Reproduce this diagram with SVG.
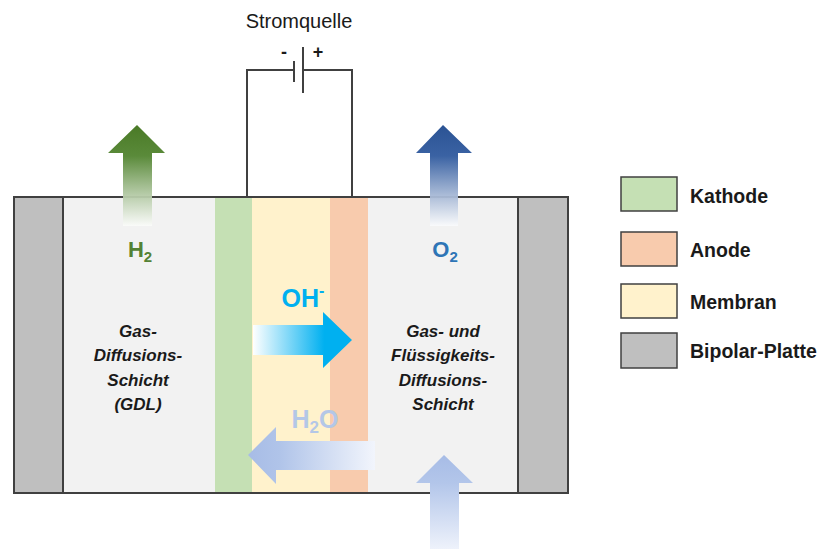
<svg xmlns="http://www.w3.org/2000/svg" width="823" height="549" viewBox="0 0 823 549">
  <style>
    .wire { fill: none; stroke: #404040; stroke-width: 2; }
    .plate { fill: #bfbfbf; stroke: #404040; stroke-width: 2; }
    .cell { fill: #f2f2f2; stroke: #404040; stroke-width: 2; }
    .key { stroke: #404040; stroke-width: 1.5; }
    .lbl { font-family: "Liberation Sans", Arial, sans-serif; font-weight: bold; font-size: 19.5px; fill: #1a1a1a; }
    .layer { font-family: "Liberation Sans", Arial, sans-serif; font-weight: bold; font-style: italic; font-size: 17px; fill: #1a1a1a; text-anchor: middle; }
    .chem { font-family: "Liberation Sans", Arial, sans-serif; font-weight: bold; text-anchor: middle; }
  </style>
  <defs>
    <linearGradient id="gH2" gradientUnits="userSpaceOnUse" x1="0" y1="125" x2="0" y2="228">
      <stop offset="0" stop-color="#4a7a26"/>
      <stop offset="0.3" stop-color="#5a8a3a"/>
      <stop offset="1" stop-color="#ffffff" stop-opacity="0.9"/>
    </linearGradient>
    <linearGradient id="gO2" gradientUnits="userSpaceOnUse" x1="0" y1="125" x2="0" y2="228">
      <stop offset="0" stop-color="#2b5394"/>
      <stop offset="0.3" stop-color="#3a62a3"/>
      <stop offset="1" stop-color="#ffffff" stop-opacity="0.9"/>
    </linearGradient>
    <linearGradient id="gOH" gradientUnits="userSpaceOnUse" x1="253" y1="0" x2="352" y2="0">
      <stop offset="0" stop-color="#ffffff"/>
      <stop offset="0.72" stop-color="#00b0f0"/>
      <stop offset="1" stop-color="#00b0f0"/>
    </linearGradient>
    <linearGradient id="gH2O" gradientUnits="userSpaceOnUse" x1="248" y1="0" x2="375" y2="0">
      <stop offset="0" stop-color="#a7bce6"/>
      <stop offset="0.25" stop-color="#b0c4e9"/>
      <stop offset="1" stop-color="#f2f5fc"/>
    </linearGradient>
    <linearGradient id="gIn" gradientUnits="userSpaceOnUse" x1="0" y1="455" x2="0" y2="549">
      <stop offset="0" stop-color="#a7bce6"/>
      <stop offset="0.3" stop-color="#b3c6ea"/>
      <stop offset="1" stop-color="#eef2fb"/>
    </linearGradient>
  </defs>

  <!-- power source circuit -->
  <g id="power-source">
    <text x="299" y="28" text-anchor="middle" font-family="Liberation Sans, Arial, sans-serif" font-size="20" fill="#1a1a1a">Stromquelle</text>
    <text x="284" y="58" text-anchor="middle" font-family="Liberation Sans, Arial, sans-serif" font-size="18" font-weight="bold" fill="#1a1a1a">-</text>
    <text x="318" y="58" text-anchor="middle" font-family="Liberation Sans, Arial, sans-serif" font-size="18" font-weight="bold" fill="#1a1a1a">+</text>
    <polyline class="wire" points="247,197 247,70 294,70"/>
    <polyline class="wire" points="303,70 352,70 352,197"/>
    <line class="wire" x1="294" y1="61" x2="294" y2="82"/>
    <line class="wire" x1="303" y1="47" x2="303" y2="93"/>
  </g>

  <!-- cell body -->
  <g id="cell">
    <rect class="cell" x="63" y="197" width="455" height="296"/>
    <rect x="215" y="198" width="37" height="294" fill="#c5e0b4"/>
    <rect x="252" y="198" width="78" height="294" fill="#fff2cc"/>
    <rect x="330" y="198" width="38" height="294" fill="#f8cbad"/>
  </g>
  <g id="bipolar-left"><rect class="plate" x="14" y="197" width="49" height="296"/></g>
  <g id="bipolar-right"><rect class="plate" x="518" y="197" width="50" height="296"/></g>

  <!-- layer descriptions -->
  <g id="gdl-text">
    <text class="layer" x="138" y="337">Gas-</text>
    <text class="layer" x="138" y="361">Diffusions-</text>
    <text class="layer" x="138" y="386">Schicht</text>
    <text class="layer" x="138" y="410">(GDL)</text>
  </g>
  <g id="lgdl-text">
    <text class="layer" x="443" y="337">Gas- und</text>
    <text class="layer" x="443" y="361">Flüssigkeits-</text>
    <text class="layer" x="443" y="386">Diffusions-</text>
    <text class="layer" x="443" y="410">Schicht</text>
  </g>

  <!-- species flows -->
  <g id="flows">
    <polygon fill="url(#gH2)" points="137,125 165,153 152,153 152,226 123,226 123,153 108,153"/>
    <polygon fill="url(#gO2)" points="443,125 472,153 458,153 458,226 430,226 430,153 416,153"/>
    <polygon fill="url(#gOH)" points="253,325 323,325 323,312 352,340 323,368 323,355 253,355"/>
    <polygon fill="url(#gH2O)" points="248,455 276,427 276,441 375,441 375,470 276,470 276,484"/>
    <polygon fill="url(#gIn)" points="444,455 473,483 459,483 459,549 430,549 430,483 416,483"/>
  </g>

  <g id="labels">
    <text class="chem" x="140" y="257" font-size="22" fill="#548235">H<tspan font-size="15" dy="5">2</tspan></text>
    <text class="chem" x="445" y="257" font-size="22" fill="#2e75b6">O<tspan font-size="15" dy="5">2</tspan></text>
    <text class="chem" x="303" y="307" font-size="25" fill="#00b0f0">OH<tspan font-size="16" dy="-11">-</tspan></text>
    <text class="chem" x="315" y="428" font-size="25" fill="#b4c7e7">H<tspan font-size="17" dy="5">2</tspan><tspan dy="-5">O</tspan></text>
  </g>

  <!-- legend -->
  <g id="legend-kathode">
    <rect class="key" x="621" y="177" width="56" height="34" fill="#c5e0b4"/>
    <text class="lbl" x="690" y="203">Kathode</text>
  </g>
  <g id="legend-anode">
    <rect class="key" x="621" y="232" width="56" height="34" fill="#f8cbad"/>
    <text class="lbl" x="690" y="257">Anode</text>
  </g>
  <g id="legend-membran">
    <rect class="key" x="621" y="284" width="56" height="34" fill="#fff2cc"/>
    <text class="lbl" x="690" y="309">Membran</text>
  </g>
  <g id="legend-bipolar">
    <rect class="key" x="621" y="333" width="56" height="35" fill="#bfbfbf"/>
    <text class="lbl" x="690" y="358">Bipolar-Platte</text>
  </g>
</svg>
